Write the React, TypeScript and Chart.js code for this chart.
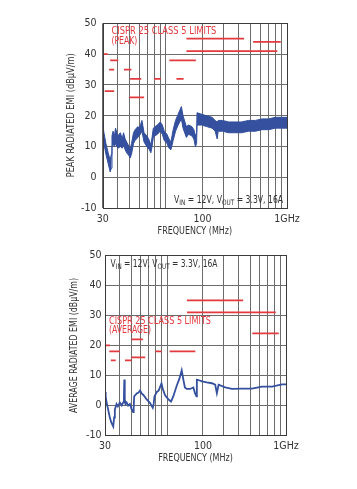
import React, { useEffect, useRef } from 'react';
import { Chart, registerables } from 'chart.js';

Chart.register(...registerables);

const FONT = "'Liberation Sans Narrow', 'Arial Narrow', 'DejaVu Sans Condensed', sans-serif";

// ---- axes ----
const gridFreqs = [30, 40, 50, 60, 70, 80, 90, 100, 200, 300, 400, 500, 600, 700, 800, 900, 1000];
const xLabelFreqs = [30, 200, 1000];
const xLabelTexts = ['30', '100', '1GHz'];
const yMin = -10;
const yMax = 50;
const yStep = 10;

// ---- peak chart data (MHz, dBµV/m) ----
const peakFreq = [30, 30.7, 31.9, 33.3, 34.6, 35.3, 35.8, 36.5, 37.5, 38.3, 40, 42, 43.5, 44.6, 46, 47.3, 49.6, 50.5, 51.9, 53.9, 55.6, 58.5, 60.3, 63.3, 65.9, 69.5, 72.9, 75, 76.7, 78.6, 81.3, 85, 89.6, 93.3, 96.8, 101.9, 105.9, 109.9, 114.6, 120, 126, 134, 138.4, 147.4, 153.7, 163.4, 170, 174.9, 179, 180.5, 197, 217, 240, 255, 265, 270, 293, 330, 372, 421, 481, 548, 622, 705, 800, 909, 1000];
const peakHi = [17.5, 14.5, 11, 8, 5.5, 7.5, 13.5, 15, 13.5, 16, 13.5, 14.5, 12.5, 14.5, 12.5, 11.5, 10, 9, 11, 14.5, 15.5, 16.5, 16, 18.5, 14.5, 13.5, 12, 10.5, 13, 16, 16.5, 17, 18, 17, 15, 14, 12.5, 11.5, 15.5, 18.5, 20.5, 23, 20, 16.5, 17, 16.5, 15.5, 13.5, 14.5, 21, 20.5, 20, 19.5, 18.5, 18, 18.5, 18.5, 18, 18, 18, 18.5, 18.5, 19, 19, 19.5, 19.5, 19.5];
const peakLo = [13, 11, 7.5, 4.5, 1.8, 3, 10, 11, 10, 11, 9.5, 10, 9.5, 10.5, 9, 8, 7, 6.3, 7.5, 11, 12, 13, 13.5, 15, 11.5, 10, 9, 8, 10, 13, 13.5, 14, 15, 14, 12, 11, 9.5, 9, 12, 15, 17, 19, 16, 13, 14, 13.5, 12.5, 10, 11, 17, 17, 16.5, 16, 15, 12.5, 15, 15, 14.5, 14.5, 14.5, 15, 15, 15.5, 15.5, 16, 16, 16];

// peak limits (start MHz, end MHz, level dBµV/m)
const peakLimitStart = [30, 34.6, 33.9, 45, 50.5, 79.8, 122, 31.2, 49.6, 106.7, 147.6, 147.6, 525];
const peakLimitEnd = [33, 40.3, 37.3, 51.8, 62.5, 90.6, 140, 37.3, 66, 176.5, 442, 831, 888];
const peakLimitLevel = [40, 38, 35, 35, 32, 32, 32, 28, 26, 38, 45, 41, 44];

// ---- average chart data ----
const avgFreq = [30, 30.4, 31, 31.9, 33, 34.1, 35.2, 35.8, 36.3, 37.5, 38.5, 40, 41.5, 42.7, 43.3, 43.6, 44, 44.6, 45.6, 47, 48.6, 50.2, 51.8, 52.3, 52.8, 55.5, 57.5, 59.2, 61, 63.1, 67.3, 71.8, 75.7, 77, 78.2, 81.9, 85, 89.6, 92, 95.9, 100, 104, 107.8, 112.6, 120.2, 127, 132.6, 136.9, 141, 146.1, 155.9, 166.3, 171.5, 176.5, 177.8, 185, 196.8, 215, 238, 253.7, 262, 271, 307.9, 350.6, 425.8, 517, 628, 763, 926, 1000];
const avgVal = [4.5, 3, 0.8, -1.4, -4.2, -5.9, -7, -4, -1.4, 0.5, -0.3, 1, 0, 1, 3, 8.6, 2, 0.5, 1, 0, 0.5, -1.2, -2.2, -1, 3, 4, 4.3, 5, 4, 3.5, 2, 0.8, -0.8, 0.5, 3, 4.5, 5, 7.3, 5.5, 3.5, 2.5, 1.8, 1.3, 3, 6.5, 9, 11.7, 8.6, 6, 5.5, 5.5, 6, 4.1, 3, 8.6, 8.4, 8, 7.7, 7.4, 6.9, 4.1, 6.9, 6, 5.5, 5.6, 5.6, 6.3, 6.3, 7, 7];

// average limits
const avgLimitStart = [30, 32.6, 33.6, 44.2, 50, 50, 79.5, 104.9, 146.7, 146.7, 521];
const avgLimitEnd = [33, 40, 36.9, 50.3, 62.5, 65.4, 89.9, 172.6, 436, 821, 869];
const avgLimitLevel = [20, 18, 15, 15, 22, 16, 18, 18, 35, 31, 24];

const BLUE = '#34509e';
const RED = '#e23a3f';
const GRID = '#6c6c6c';
const TEXT = '#333333';
const FS = 10;

// text of fixed width (condensed to the reference's narrow type)
function fitText(
  ctx: CanvasRenderingContext2D,
  text: string,
  x: number,
  y: number,
  width: number,
  align: 'left' | 'center' | 'right',
  color: string,
  rot = 0
) {
  ctx.save();
  ctx.font = `${FS}px ${FONT}`;
  const w = ctx.measureText(text).width;
  ctx.translate(x, y);
  if (rot) ctx.rotate(rot);
  ctx.scale(width / w, 1);
  ctx.textAlign = align;
  ctx.textBaseline = 'middle';
  ctx.fillStyle = color;
  ctx.fillText(text, 0, 0);
  ctx.restore();
}

function drawCondText(ctx: CanvasRenderingContext2D, left: number, y: number, width: number) {
  const parts: [string, boolean][] = [['V', false], ['IN', true], [' = 12V, V', false], ['OUT', true], [' = 3.3V, 16A', false]];
  const main = `${FS}px ${FONT}`;
  const sub = `7.5px ${FONT}`;
  let total = 0;
  for (const [t, s] of parts) {
    ctx.font = s ? sub : main;
    total += ctx.measureText(t).width;
  }
  ctx.save();
  ctx.translate(left, y);
  ctx.scale(width / total, 1);
  ctx.textAlign = 'left';
  ctx.textBaseline = 'middle';
  ctx.fillStyle = TEXT;
  let cx = 0;
  for (const [t, s] of parts) {
    ctx.font = s ? sub : main;
    ctx.fillText(t, cx, s ? 3 : 0);
    cx += ctx.measureText(t).width;
  }
  ctx.restore();
}

type Cfg = {
  freq: number[];
  lines: { data: number[]; fillPrev?: boolean }[];
  limStart: number[];
  limEnd: number[];
  limLevel: number[];
  pad: { left: number; top: number; right: number };
  yWidth: number;
  xHeight: number;
  yTickPad: number;
  xTickPad: number;
  annot: (chart: any) => void;
};

function buildChart(canvas: HTMLCanvasElement, cfg: Cfg) {
  const datasets: any[] = [];
  cfg.lines.forEach((l) => {
    datasets.push({
      data: cfg.freq.map((f, k) => ({ x: f, y: l.data[k] })),
      borderColor: BLUE,
      backgroundColor: BLUE,
      borderWidth: cfg.lines.length > 1 ? 1 : 1.8,
      pointRadius: 0,
      tension: 0,
      fill: l.fillPrev ? '-1' : false,
    });
  });
  cfg.limLevel.forEach((lv, i) => {
    datasets.push({
      data: [{ x: cfg.limStart[i], y: lv }, { x: cfg.limEnd[i], y: lv }],
      borderColor: RED,
      borderWidth: 1.8,
      pointRadius: 0,
      fill: false,
    });
  });

  const frame = {
    id: 'frame',
    afterDraw(chart: any) {
      const { ctx, chartArea: a } = chart;
      ctx.save();
      ctx.strokeStyle = '#3a3a3a';
      ctx.lineWidth = 1;
      ctx.strokeRect(Math.round(a.left) + 0.5, Math.round(a.top) + 0.5, Math.round(a.right - a.left), Math.round(a.bottom - a.top));
      ctx.restore();
      cfg.annot(chart);
    },
  };

  return new Chart(canvas, {
    type: 'line',
    data: { datasets },
    plugins: [frame],
    options: {
      responsive: false,
      animation: false,
      devicePixelRatio: 1,
      layout: { padding: { left: cfg.pad.left, top: cfg.pad.top, right: cfg.pad.right, bottom: 0 } },
      plugins: { legend: { display: false }, tooltip: { enabled: false } },
      scales: {
        x: {
          type: 'logarithmic',
          min: 30,
          max: 1000,
          afterBuildTicks: (s: any) => {
            s.ticks = gridFreqs.map((v) => ({ value: v }));
          },
          afterFit: (s: any) => {
            s.height = cfg.xHeight;
          },
          border: { display: false },
          grid: { color: GRID, lineWidth: 1, drawTicks: false },
          ticks: {
            autoSkip: false,
            maxRotation: 0,
            padding: cfg.xTickPad,
            color: TEXT,
            font: { family: FONT, size: 10.5 },
            callback: (v: any) => {
              const i = xLabelFreqs.indexOf(Number(v));
              return i >= 0 ? xLabelTexts[i] : '';
            },
          },
        },
        y: {
          type: 'linear',
          min: yMin,
          max: yMax,
          afterFit: (s: any) => {
            s.width = cfg.yWidth;
          },
          border: { display: false },
          grid: { color: GRID, lineWidth: 1, drawTicks: false },
          ticks: {
            stepSize: yStep,
            padding: cfg.yTickPad,
            color: TEXT,
            font: { family: FONT, size: 10.5 },
          },
        },
      },
    } as any,
  });
}

export default function App() {
  const topRef = useRef<HTMLCanvasElement>(null);
  const botRef = useRef<HTMLCanvasElement>(null);

  useEffect(() => {
    const top = buildChart(topRef.current!, {
      freq: peakFreq,
      lines: [{ data: peakLo }, { data: peakHi, fillPrev: true }],
      limStart: peakLimitStart,
      limEnd: peakLimitEnd,
      limLevel: peakLimitLevel,
      pad: { left: 0, top: 23.3, right: 70 },
      yWidth: 102.7,
      xHeight: 31.7,
      yTickPad: 6.3,
      xTickPad: 4.7,
      annot: (chart: any) => {
        const { ctx, chartArea: a } = chart;
        const xs = chart.scales.x;
        const ys = chart.scales.y;
        fitText(ctx, 'PEAK RADIATED EMI (dBµV/m)', 71, (a.top + a.bottom) / 2 - 0.5, 124, 'center', TEXT, -Math.PI / 2);
        fitText(ctx, 'FREQUENCY (MHz)', (a.left + a.right) / 2, 231, 74.6, 'center', TEXT);
        fitText(ctx, 'CISPR 25 CLASS 5 LIMITS', xs.getPixelForValue(35.4), ys.getPixelForValue(47.5), 105, 'left', RED);
        fitText(ctx, '(PEAK)', xs.getPixelForValue(35.4), ys.getPixelForValue(44), 26, 'left', RED);
        drawCondText(ctx, xs.getPixelForValue(116.6), ys.getPixelForValue(-7.4), 109);
      },
    });
    const bot = buildChart(botRef.current!, {
      freq: avgFreq,
      lines: [{ data: avgVal }],
      limStart: avgLimitStart,
      limEnd: avgLimitEnd,
      limLevel: avgLimitLevel,
      pad: { left: 0, top: 15.3, right: 71 },
      yWidth: 105,
      xHeight: 53.5,
      yTickPad: 3.5,
      xTickPad: 4.7,
      annot: (chart: any) => {
        const { ctx, chartArea: a } = chart;
        const xs = chart.scales.x;
        const ys = chart.scales.y;
        fitText(ctx, 'AVERAGE RADIATED EMI (dBµV/m)', 74, 105.5, 135, 'center', TEXT, -Math.PI / 2);
        fitText(ctx, 'FREQUENCY (MHz)', (a.left + a.right) / 2, 218.5, 74.6, 'center', TEXT);
        fitText(ctx, 'CISPR 25 CLASS 5 LIMITS', xs.getPixelForValue(32.4), ys.getPixelForValue(28), 102, 'left', RED);
        fitText(ctx, '(AVERAGE)', xs.getPixelForValue(32.4), ys.getPixelForValue(25), 42, 'left', RED);
        drawCondText(ctx, xs.getPixelForValue(33.4), ys.getPixelForValue(47.1), 107);
      },
    });
    return () => {
      top.destroy();
      bot.destroy();
    };
  }, []);

  return (
    <div style={{ position: 'absolute', left: 0, top: 0, width: 357, height: 489, background: '#fff' }}>
      <canvas ref={topRef} width={357} height={240} style={{ position: 'absolute', left: 0, top: 0, width: 357, height: 240 }} />
      <canvas ref={botRef} width={357} height={249} style={{ position: 'absolute', left: 0, top: 240, width: 357, height: 249 }} />
    </div>
  );
}
